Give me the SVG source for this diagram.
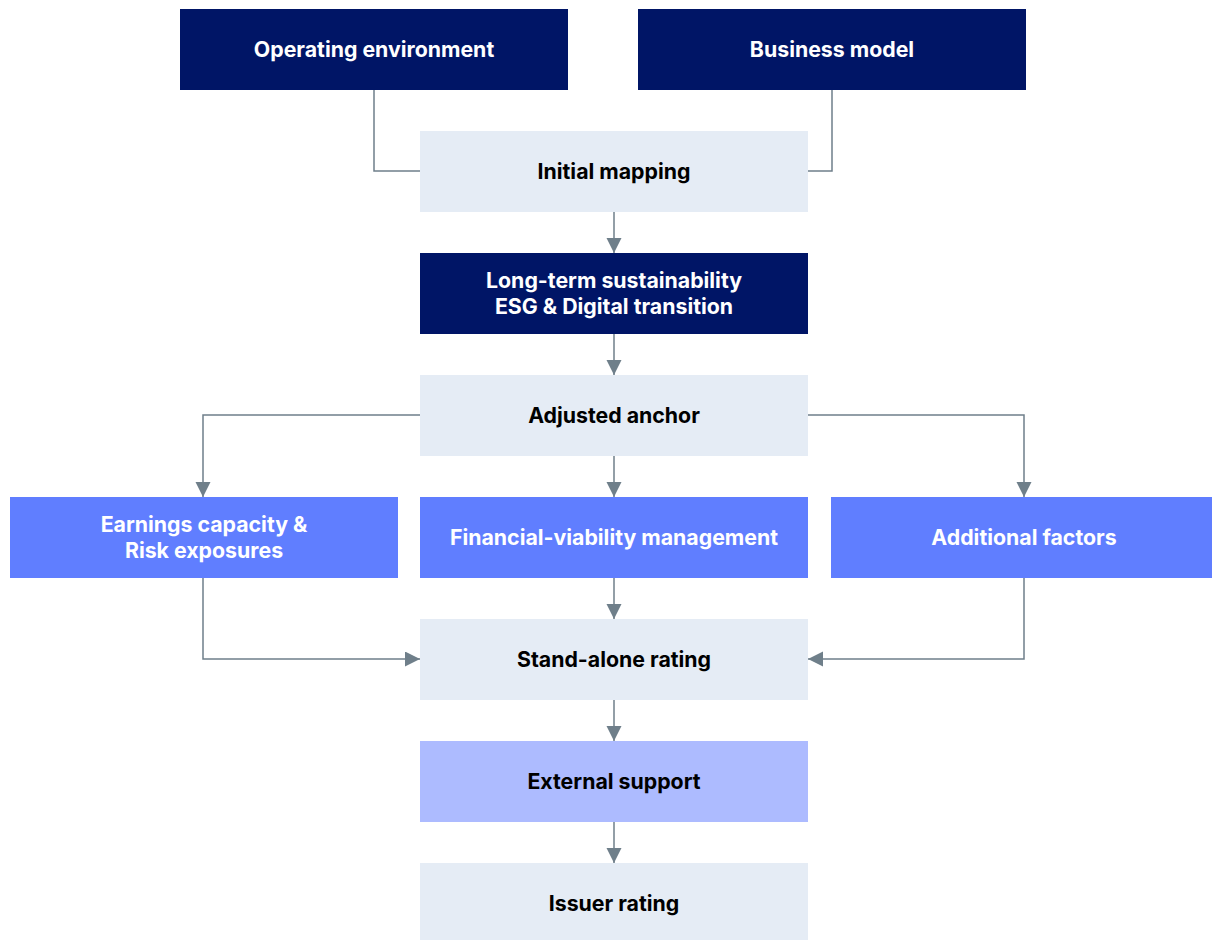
<svg xmlns="http://www.w3.org/2000/svg" width="1212" height="940" viewBox="0 0 1212 940">
<style>
.dark{fill:#001566}
.light{fill:#E5ECF5}
.blue{fill:#607EFF}
.lav{fill:#ADBBFF}
text{font-family:Inter,"Liberation Sans",sans-serif;font-weight:700;font-size:21.3px;text-anchor:middle;dominant-baseline:central}
.w{fill:#ffffff}
.k{fill:#000000}
.c{fill:none;stroke:#6F7F8A;stroke-width:1.5}
</style>
<defs>
<marker id="ah" markerWidth="16" markerHeight="16" refX="15" refY="7.5" orient="auto" markerUnits="userSpaceOnUse">
<path d="M0,0 L15,7.5 L0,15 Z" fill="#6F7F8A"/>
</marker>
</defs>
<rect width="1212" height="940" fill="#ffffff"/>
<g id="connectors">
<path class="c" d="M374,90 V171 H420"/>
<path class="c" d="M832,90 V171 H808"/>
<path class="c" d="M614,212 V253" marker-end="url(#ah)"/>
<path class="c" d="M614,334 V375" marker-end="url(#ah)"/>
<path class="c" d="M614,456 V497" marker-end="url(#ah)"/>
<path class="c" d="M420,415 H203 V497" marker-end="url(#ah)"/>
<path class="c" d="M808,415 H1024 V497" marker-end="url(#ah)"/>
<path class="c" d="M614,578 V619" marker-end="url(#ah)"/>
<path class="c" d="M203,578 V659 H420" marker-end="url(#ah)"/>
<path class="c" d="M1024,578 V659 H808" marker-end="url(#ah)"/>
<path class="c" d="M614,700 V741" marker-end="url(#ah)"/>
<path class="c" d="M614,822 V863" marker-end="url(#ah)"/>
</g>
<g id="operating-environment"><rect class="dark" x="180" y="9" width="388" height="81"/><text class="w" x="374" y="48.5">Operating environment</text></g>
<g id="business-model"><rect class="dark" x="638" y="9" width="388" height="81"/><text class="w" x="832" y="48.5">Business model</text></g>
<g id="initial-mapping"><rect class="light" x="420" y="131" width="388" height="81"/><text class="k" x="614" y="170.5">Initial mapping</text></g>
<g id="long-term"><rect class="dark" x="420" y="253" width="388" height="81"/><text class="w" x="614" y="279.5">Long-term sustainability</text><text class="w" x="614" y="305.5">ESG &amp; Digital transition</text></g>
<g id="adjusted-anchor"><rect class="light" x="420" y="375" width="388" height="81"/><text class="k" x="614" y="414.5">Adjusted anchor</text></g>
<g id="earnings"><rect class="blue" x="10" y="497" width="388" height="81"/><text class="w" x="204" y="523.5">Earnings capacity &amp;</text><text class="w" x="204" y="549.5">Risk exposures</text></g>
<g id="financial-viability"><rect class="blue" x="420" y="497" width="388" height="81"/><text class="w" x="614" y="536.5">Financial-viability management</text></g>
<g id="additional-factors"><rect class="blue" x="831" y="497" width="381" height="81"/><text class="w" x="1024" y="536.5">Additional factors</text></g>
<g id="stand-alone"><rect class="light" x="420" y="619" width="388" height="81"/><text class="k" x="614" y="658.5">Stand-alone rating</text></g>
<g id="external-support"><rect class="lav" x="420" y="741" width="388" height="81"/><text class="k" x="614" y="780.5">External support</text></g>
<g id="issuer-rating"><rect class="light" x="420" y="863" width="388" height="77"/><text class="k" x="614" y="902.5">Issuer rating</text></g>
</svg>
